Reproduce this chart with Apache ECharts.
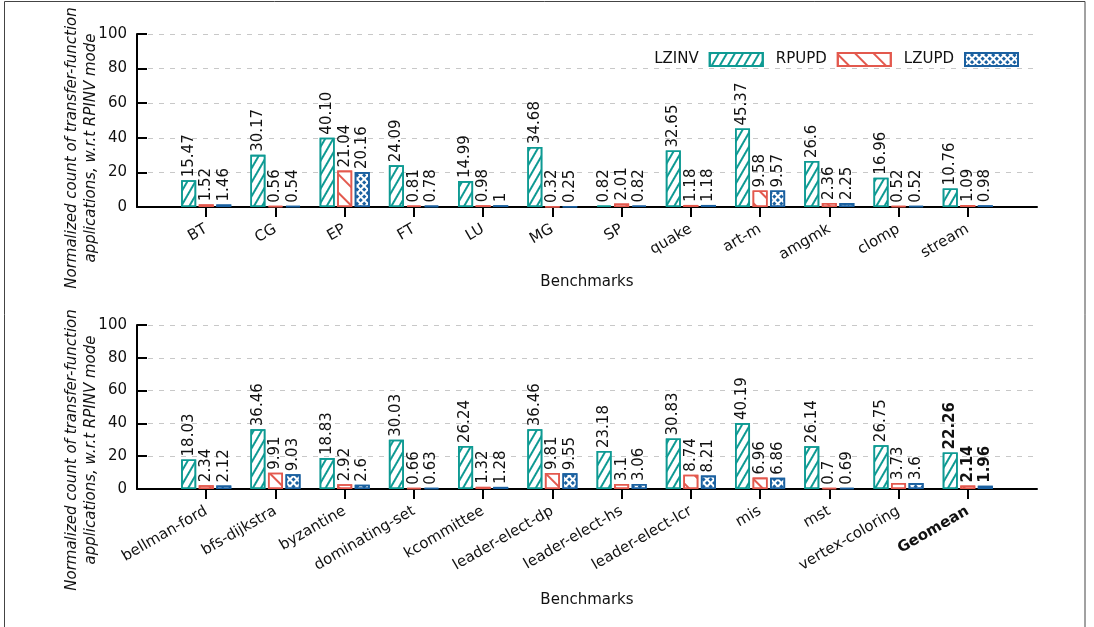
<!DOCTYPE html>
<html>
<head>
<meta charset="utf-8">
<script src="https://cdn.jsdelivr.net/npm/echarts@6/dist/echarts.min.js"></script>
<style>html,body{margin:0;padding:0;background:#fff;}#c{width:1094px;height:627px;}</style>
</head>
<body>
<div id="c"></div>
<script>
// ---- data ----
var topCategories = ['BT','CG','EP','FT','LU','MG','SP','quake','art-m','amgmk','clomp','stream'];
var topLZINV = ['15.47','30.17','40.10','24.09','14.99','34.68','0.82','32.65','45.37','26.6','16.96','10.76'];
var topRPUPD = ['1.52','0.56','21.04','0.81','0.98','0.32','2.01','1.18','9.58','2.36','0.52','1.09'];
var topLZUPD = ['1.46','0.54','20.16','0.78','1','0.25','0.82','1.18','9.57','2.25','0.52','0.98'];

var botCategories = ['bellman-ford','bfs-dijkstra','byzantine','dominating-set','kcommittee','leader-elect-dp','leader-elect-hs','leader-elect-lcr','mis','mst','vertex-coloring','Geomean'];
var botLZINV = ['18.03','36.46','18.83','30.03','26.24','36.46','23.18','30.83','40.19','26.14','26.75','22.26'];
var botRPUPD = ['2.34','9.91','2.92','0.66','1.32','9.81','3.1','8.74','6.96','0.7','3.73','2.14'];
var botLZUPD = ['2.12','9.03','2.6','0.63','1.28','9.55','3.06','8.21','6.86','0.69','3.6','1.96'];

var yTicks = [0, 20, 40, 60, 80, 100];
var seriesNames = ['LZINV', 'RPUPD', 'LZUPD'];

// ---- styling ----
var FONT = 'DejaVu Sans';
var TEAL = '#0e9a93', RED = '#e3594e', BLUE = '#1a60a0';
var styles = {
  LZINV: { color: '#fff', borderColor: TEAL, borderWidth: 1.6,
    decal: { symbol: 'rect', symbolSize: 1, color: TEAL, dashArrayX: [1, 0], dashArrayY: [1.6, 4.2], rotation: -Math.PI / 3 } },
  RPUPD: { color: '#fff', borderColor: RED, borderWidth: 1.6,
    decal: { symbol: 'rect', symbolSize: 1, color: RED, dashArrayX: [1, 0], dashArrayY: [1.6, 11], rotation: Math.PI / 4 } },
  LZUPD: { color: '#fff', borderColor: BLUE, borderWidth: 1.6,
    decal: { symbol: 'rect', symbolSize: 1, color: BLUE, dashArrayX: [3, 1.3], dashArrayY: [3, 1.3], rotation: Math.PI / 4 } }
};

function padCats(c) { return [''].concat(c).concat([' ']); }
function mkData(arr, boldLast) {
  var d = ['-'];
  arr.forEach(function (s, i) {
    var item = { value: parseFloat(s), txt: s };
    if (boldLast && i === arr.length - 1) item.label = { fontWeight: 'bold' };
    d.push(item);
  });
  d.push('-');
  return d;
}
function mkSeries(name, arr, gi, boldLast) {
  return {
    name: name, type: 'bar', xAxisIndex: gi, yAxisIndex: gi,
    data: mkData(arr, boldLast),
    barWidth: 15, barGap: '17%',
    itemStyle: styles[name],
    emphasis: { disabled: true },
    label: {
      show: true, position: 'top', rotate: 90, align: 'left', verticalAlign: 'middle',
      distance: 3, fontFamily: FONT, fontSize: 15, color: '#111',
      formatter: function (p) { return p.data && p.data.txt ? p.data.txt : ''; }
    }
  };
}

function xAx(gi, cats, nameGap) {
  var n = cats.length + 2;
  return {
    type: 'category', gridIndex: gi, data: padCats(cats), boundaryGap: false,
    name: 'Benchmarks', nameLocation: 'middle', nameGap: nameGap,
    nameTextStyle: { fontFamily: FONT, fontSize: 15, color: '#111' },
    axisLine: { lineStyle: { color: '#000', width: 2 } },
    axisTick: { show: true, length: 10, lineStyle: { color: '#000', width: 2 },
      interval: function (i) { return i > 0 && i < n - 1; } },
    axisLabel: { interval: 0, rotate: 30, margin: 21, fontFamily: FONT, fontSize: 15, color: '#111',
      formatter: function (v) { return v === 'Geomean' ? '{b|Geomean}' : v; },
      rich: { b: { fontWeight: 'bold', fontFamily: FONT, fontSize: 15, color: '#111' } } },
    splitLine: { show: false }
  };
}
function yAx(gi) {
  return {
    type: 'value', gridIndex: gi, min: yTicks[0], max: yTicks[yTicks.length - 1],
    interval: yTicks[1] - yTicks[0],
    axisLine: { show: true, lineStyle: { color: '#000', width: 2 } },
    axisTick: { show: true, inside: true, length: 10, lineStyle: { color: '#000', width: 2 } },
    axisLabel: { margin: 10, fontFamily: FONT, fontSize: 15, color: '#111' },
    splitLine: { show: true, lineStyle: { color: '#c8c8c8', type: [5, 6], width: 1 } }
  };
}

var series = [];
series.push(mkSeries('LZINV', topLZINV, 0));
series.push(mkSeries('RPUPD', topRPUPD, 0));
series.push(mkSeries('LZUPD', topLZUPD, 0));
series.push(mkSeries('LZINV', botLZINV, 1, true));
series.push(mkSeries('RPUPD', botRPUPD, 1, true));
series.push(mkSeries('LZUPD', botLZUPD, 1, true));

function yTitle(cy) {
  return [
    { type: 'text', x: 72, y: cy, rotation: Math.PI / 2, silent: true,
      style: { text: 'Normalized count of transfer-function', fontFamily: FONT, fontStyle: 'italic', fontSize: 15, fill: '#111', textAlign: 'center', textVerticalAlign: 'middle' } },
    { type: 'text', x: 91, y: cy, rotation: Math.PI / 2, silent: true,
      style: { text: 'applications, w.r.t RPINV mode', fontFamily: FONT, fontStyle: 'italic', fontSize: 15, fill: '#111', textAlign: 'center', textVerticalAlign: 'middle' } }
  ];
}

var chart = echarts.init(document.getElementById('c'), null, { renderer: 'canvas' });
chart.setOption({
  backgroundColor: '#fff',
  animation: false,
  grid: [
    { left: 137, right: 57, top: 34, height: 173 },
    { left: 137, right: 57, top: 325, height: 164 }
  ],
  legend: {
    data: seriesNames, right: 70, top: 47, align: 'right', icon: 'rect',
    itemWidth: 53, itemHeight: 13, itemGap: 12,
    textStyle: { fontFamily: FONT, fontSize: 15, color: '#111', padding: [0, 6, 0, 0] },
    selectedMode: false
  },
  xAxis: [xAx(0, topCategories, 68), xAx(1, botCategories, 104)],
  yAxis: [yAx(0), yAx(1)],
  series: series,
  graphic: [
    { type: 'rect', silent: true, shape: { x: 4.5, y: 1.5, width: 1080.5, height: 640 },
      style: { fill: 'none', stroke: '#444', lineWidth: 1 } }
  ].concat(yTitle(148)).concat(yTitle(450))
});
</script>
</body>
</html>
